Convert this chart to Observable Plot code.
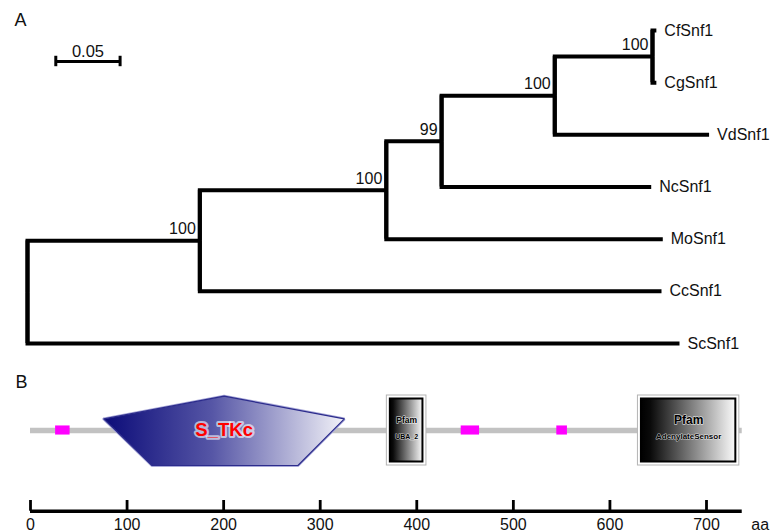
<!DOCTYPE html>
<html><head><meta charset="utf-8">
<script src="https://cdn.jsdelivr.net/npm/d3@7"></script>
<script src="https://cdn.jsdelivr.net/npm/@observablehq/plot@0.6"></script>
<style>
html,body{margin:0;padding:0;background:#fff;}
#chart svg{display:block;}
</style></head>
<body><div id="chart"></div>
<script>
// ---------- Panel A: phylogenetic tree (neighbour-joining, bootstrap %) ----------
const nodeIds      = ["root","n1","n2","n3","n4","n5","CfSnf1","CgSnf1","VdSnf1","NcSnf1","MoSnf1","CcSnf1","ScSnf1"];
const nodeParents  = [null,  "root","n1","n2","n3","n4","n5",   "n5",    "n4",    "n3",    "n2",    "n1",    "root"];
const branchLengths= [0,     0.134, 0.145,0.043,0.088,0.076,0.003, 0.003,   0.120,   0.163,   0.215,   0.359,   0.507];
const bootstrap    = [null,  100,   100,  99,   100,  100,  null,  null,    null,    null,    null,    null,    null];
const leafOrder    = ["CfSnf1","CgSnf1","VdSnf1","NcSnf1","MoSnf1","CcSnf1","ScSnf1"];
const scaleBarLength = 0.05;

// ---------- Panel B: domain architecture ----------
const proteinLength = 737;
const domainNames   = ["S_TKc","UBA_2","AdenylateSensor"];
const domainSources = ["SMART","Pfam","Pfam"];
const domainStarts  = [76, 369, 629];
const domainEnds    = [325, 410, 734];
const lowComplexityStarts = [26, 446, 545];
const lowComplexityEnds   = [41, 465, 556];
const axisTicks = [0,100,200,300,400,500,600,700];

const FONT = "Liberation Sans, Arial, Helvetica, sans-serif";

// ---- build tree geometry from the arrays ----
const depth = {}, ypos = {}, children = {};
nodeIds.forEach((id,i) => {
  const p = nodeParents[i];
  depth[id] = (p ? depth[p] : 0) + branchLengths[i];
  if (p) (children[p] = children[p] || []).push(id);
});
leafOrder.forEach((id,i) => ypos[id] = i);
for (let i = nodeIds.length - 1; i >= 0; --i) {
  const id = nodeIds[i];
  if (children[id]) ypos[id] = d3.mean(children[id], c => ypos[c]);
}
const links = nodeIds.map((id,i) => ({p: nodeParents[i], id})).filter(d => d.p)
  .map(d => ({x1: depth[d.p], y1: ypos[d.p], x2: depth[d.id], y2: ypos[d.id]}));
const spans = Object.keys(children).map(id => ({x: depth[id], y1: d3.min(children[id], c => ypos[c]), y2: d3.max(children[id], c => ypos[c])}));
const leaves = leafOrder.map(id => ({name: id, x: depth[id], y: ypos[id]}));
const supports = nodeIds.map((id,i) => ({x: depth[id], y: ypos[id], b: bootstrap[i]})).filter(d => d.b != null);

const pxPerUnit = 1286;
const scaleBarStart = 0.022, scaleBarRow = 0.594;

const tree = Plot.plot({
  width: 772, height: 370, margin: 0,
  style: {fontFamily: FONT, background: "white", color: "black"},
  x: {domain: [0, 0.6], range: [27, 27 + 0.6 * pxPerUnit], axis: null},
  y: {domain: [0, 6], range: [30, 343], axis: null},
  marks: [
    Plot.link(links, {x1: "x1", y1: "y1", x2: "x2", y2: "y2", curve: "step-before",
      stroke: "black", strokeWidth: 4, strokeLinecap: "butt", strokeLinejoin: "miter", strokeMiterlimit: 4}),
    Plot.ruleX(spans, {x: "x", y1: "y1", y2: "y2", stroke: "black", strokeWidth: 4}),
    Plot.text(leaves, {x: "x", y: "y", text: "name", textAnchor: "start", dx: 8, fontSize: 16, fill: "#111"}),
    Plot.text(supports, {x: "x", y: "y", text: "b", textAnchor: "end", dx: -4, dy: -11.5, fontSize: 16, fill: "#111"}),
    // scale bar
    Plot.ruleY([scaleBarRow], {x1: scaleBarStart, x2: scaleBarStart + scaleBarLength, stroke: "black", strokeWidth: 3}),
    Plot.ruleX([scaleBarStart, scaleBarStart + scaleBarLength], {y1: scaleBarRow - 0.1, y2: scaleBarRow + 0.1, stroke: "black", strokeWidth: 3}),
    Plot.text([String(scaleBarLength)], {x: scaleBarStart + scaleBarLength / 2, y: scaleBarRow, dy: -10, text: d => d, fontSize: 16.5, fill: "#111"}),
    Plot.text(["A"], {frameAnchor: "top-left", dx: 14, dy: 13, text: d => d, fontSize: 18, fill: "#111"})
  ]
});

// ---- Panel B ----
const domains = domainNames.map((n,i) => ({name: n, source: domainSources[i], start: domainStarts[i], end: domainEnds[i]}));
const lowComplexity = lowComplexityStarts.map((s,i) => ({start: s, end: lowComplexityEnds[i]}));
const kinase = domains.find(d => d.source === "SMART");
const kl = kinase.end - kinase.start;
const pentagon = [
  {x: kinase.start, y: -0.33},
  {x: kinase.start + 0.5 * kl, y: -0.98},
  {x: kinase.end, y: -0.33},
  {x: kinase.end - 0.193 * kl, y: 1},
  {x: kinase.start + 0.2 * kl, y: 1},
  {x: kinase.start, y: -0.33}
];
const pfam = domains.filter(d => d.source === "Pfam");
const axisRow = 2.306;

function gradients() {
  const defs = d3.create("svg:defs");
  const g1 = defs.append("linearGradient").attr("id", "stkcGrad").attr("x1", 0).attr("x2", 1).attr("y1", 0).attr("y2", 0);
  g1.append("stop").attr("offset", 0).attr("stop-color", "#0b0b78");
  g1.append("stop").attr("offset", 0.45).attr("stop-color", "#5656a6");
  g1.append("stop").attr("offset", 1).attr("stop-color", "#f2f2f8");
  const g2 = defs.append("linearGradient").attr("id", "pfamGrad").attr("x1", 0).attr("x2", 1).attr("y1", 0).attr("y2", 0);
  g2.append("stop").attr("offset", 0).attr("stop-color", "#000");
  g2.append("stop").attr("offset", 0.1).attr("stop-color", "#0a0a0a");
  g2.append("stop").attr("offset", 1).attr("stop-color", "#fafafa");
  return defs.node();
}

const arch = Plot.plot({
  width: 772, height: 162, margin: 0,
  style: {fontFamily: FONT, background: "white", color: "black"},
  x: {domain: [0, 700], range: [30, 706], axis: null},
  y: {domain: [-1, 1], range: [25, 95], axis: null},
  marks: [
    gradients,
    Plot.ruleY([0], {x1: 0, x2: proteinLength, stroke: "#c2c2c2", strokeWidth: 5.5}),
    Plot.rect(lowComplexity, {x1: "start", x2: "end", y1: -0.13, y2: 0.13, fill: "#ff00ff"}),
    // kinase pentagon
    Plot.line(pentagon, {x: "x", y: "y", stroke: "#a8a8d8", strokeWidth: 3, strokeLinejoin: "miter", fill: "none"}),
    Plot.line(pentagon, {x: "x", y: "y", fill: "url(#stkcGrad)", stroke: "#2c2c8c", strokeWidth: 1.2, strokeLinejoin: "miter"}),
    Plot.text([kinase], {x: d => (d.start + d.end) / 2, y: 0, text: "name", fill: "#ff0000", fontWeight: "bold", fontSize: 18.5,
      stroke: "white", strokeWidth: 4, strokeOpacity: 0.6}),
    // Pfam boxes
    Plot.rect(pfam, {x1: "start", x2: "end", y1: -1, y2: 1, fill: "white", stroke: "#b4b4b4", strokeWidth: 1}),
    Plot.rect(pfam, {x1: "start", x2: "end", y1: -1, y2: 1, inset: 3.5, fill: "url(#pfamGrad)", stroke: "black", strokeWidth: 2}),
    Plot.text(pfam, {x: d => (d.start + d.end) / 2, y: -0.3, text: d => "Pfam", fontWeight: "bold",
      fontSize: d => (d.end - d.start > 60 ? 12 : 8.5), fill: "#000", stroke: "white", strokeWidth: 1.3, strokeOpacity: 0.7}),
    Plot.text(pfam, {x: d => (d.start + d.end) / 2, y: 0.17, text: "name", fontWeight: "bold",
      fontSize: d => (d.end - d.start > 60 ? 8 : 7), fill: "#000", stroke: "white", strokeWidth: 1.1, strokeOpacity: 0.7}),
    // ruler axis
    Plot.ruleY([axisRow], {x1: 0, x2: proteinLength, stroke: "black", strokeWidth: 3.5}),
    Plot.ruleX(axisTicks, {y1: 2.0, y2: axisRow, stroke: "black", strokeWidth: 2.8}),
    Plot.text(axisTicks, {x: d => d, y: axisRow, dy: 14, text: d => String(d), fontSize: 16, fill: "#111"}),
    Plot.text(["aa"], {x: proteinLength, y: axisRow, dx: 9, dy: 14, text: d => d, textAnchor: "start", fontSize: 16, fill: "#111"}),
    Plot.text(["B"], {frameAnchor: "top-left", dx: 15, dy: 5, text: d => d, fontSize: 18, fill: "#111"})
  ]
});

document.getElementById("chart").append(tree, arch);
</script>
</body></html>
